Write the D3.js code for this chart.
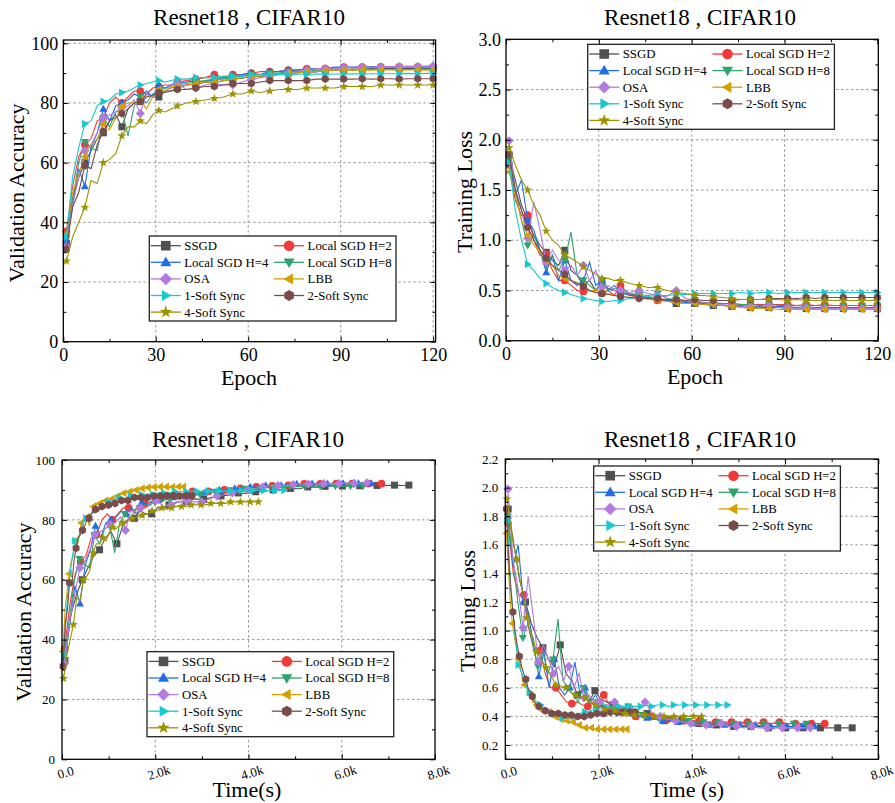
<!DOCTYPE html>
<html>
<head>
<meta charset="utf-8">
<script src="https://cdn.jsdelivr.net/npm/d3@7"></script>
<style>
body{margin:0;background:#fff}
svg, svg text{font-family:"Liberation Serif","Times New Roman",Times,serif}
</style>
</head>
<body>
<svg width="895" height="803"></svg>
<script>
// methods, legend order
const methods = ["SSGD","Local SGD H=2","Local SGD H=4","Local SGD H=8","OSA","LBB","1-Soft Sync","2-Soft Sync","4-Soft Sync"]
const colors = ["#505050","#f03a3a","#1f6ee8","#2ea36b","#b57ae0","#d4a000","#17c9cf","#7a4b4b","#9b9400"]
const shapes = ["square","circle","up","down","diamond","left","right","hexagon","star"]

// epochs where values were read
const epochs = [1,3,5,7,9,11,13,15,17,19,21,23,25,27,29,31,33,35,37,
	40,43,46,49,52,55,58,61,64,67,70,73,76,79,82,85,88,91,94,97,100,103,106,109,112,115,118,120]

// wall clock seconds per epoch, read from where each run ends on the time axis
const secPerEpoch = [62,57.1,55.3,53.8,54.5,21.7,39.7,23.2,35.1]

// validation accuracy
const accSSGD = [33,48,55,60,64,68,70,74,76,72,78,80,80.5,83,82,82,84,84,85,
	86,86.2,87,86.8,87.5,88,88.3,89,88.8,89.4,89.6,90,90.1,90.5,90.4,91,90.9,91.2,91.4,91.3,91.5,91.4,91.6,91.5,91.5,91.6,91.5,91.6]
const accH2 = [37,52,62,66,68,74,75,80,82,80,82,84,84,83,85,85.5,86,86,87,
	87.5,88,88.5,89.5,88.5,89.5,89.5,90,90.5,90.5,90.6,91,91,91.4,91.5,91.5,91.6,92,91.8,92,92,92.1,92,92.1,92,92.1,92,92.1]
const accH4 = [34,45,58,52,65,70,78,74,79,80,81,83,82,84,82,86,85,86,86.5,
	87,87.5,87,88,88.5,89,89.5,90,89.5,90.5,90.5,91,91,91.5,91.5,91.5,92,92,92,92.1,92.2,92.1,92.2,92.2,92.3,92.2,92.3,92.2]
const accH8 = [35,47,60,67,65,64,75,72,77,78,69,79,82,80,83,84,85,85,86,
	86.5,87,87.5,88,88,88.5,89,89.5,89.5,90,90,90.5,90.5,90.5,91,91,91.1,91.2,91.1,91.2,91.3,91.2,91.3,91.3,91.2,91.3,91.3,91.3]
const accOSA = [32,46,55,64,66,70,75,76,77,78.5,79,81,76.5,83,82,84,84,85,86.5,
	84.5,85,86,86.5,86,86,87,88,88.5,89,89.5,90,90.5,91,91.5,91.5,91.5,91.8,92,92,92,92.1,92.2,92.1,92.3,92.2,92.3,92.4]
const accLBB = [36,50,56,62,66,68,73,71,75,79,80,80,81,78,82,84.5,84,85.5,85.5,
	86,86.5,87,87,87.5,88,88.5,89,89,89.5,89.5,90,90,90.5,90.5,90.8,91,91,91,91.1,91,91.1,91.1,91,91.1,91.1,91,91.1]
const accSoft1 = [35,55,65,73,74,79,80.5,81,83,83.5,84,85,86,86.5,87,87.5,87,87.5,88,
	88,88.5,88.5,88.5,89,89,89,89.5,89.4,89.5,89.6,89.5,89.6,89.6,89.7,89.6,89.7,89.7,89.8,89.7,89.8,89.8,89.8,89.8,89.9,89.8,89.9,89.9]
const accSoft2 = [31,45,50,59,58,66,70.5,74,75,76.5,78,80,80.5,82,82.5,83.5,83.5,84,84.5,
	84.5,85,85.5,85.5,86,86.5,86.5,86.5,87,87.5,87.5,87.5,87.5,87.5,88,88,88,88,88,88.1,88,88.1,88.1,88,88.1,88.1,88.1,88.1]
const accSoft4 = [27,35,40,45,54,53,60,61,63,69,72,72,74,73,76,77.5,77,78,79,
	80,80.5,81,81.5,82,83,83,84,83.5,84,84.5,84.5,84.5,85,85,85,85,85.5,85.5,85.5,85.5,86,86,86,86,86,86,86]

// training loss
const lossSSGD = [1.85,1.6,1.35,1.2,1.05,0.95,0.88,0.8,0.75,0.9,0.7,0.65,0.55,0.6,0.5,0.58,0.52,0.5,0.48,
	0.46,0.45,0.43,0.42,0.4,0.37,0.38,0.37,0.36,0.35,0.35,0.34,0.34,0.33,0.33,0.33,0.33,0.32,0.33,0.32,0.32,0.32,0.32,0.32,0.32,0.32,0.32,0.32]
const lossH2 = [1.75,1.4,1.25,1.25,1.0,0.85,0.86,0.7,0.6,0.6,0.55,0.5,0.49,0.5,0.48,0.47,0.5,0.45,0.55,
	0.45,0.43,0.42,0.4,0.4,0.4,0.39,0.38,0.38,0.37,0.37,0.37,0.36,0.36,0.36,0.36,0.36,0.36,0.35,0.36,0.35,0.36,0.35,0.35,0.35,0.35,0.35,0.35]
const lossH4 = [1.8,1.45,1.6,1.2,1.1,0.9,0.68,0.85,0.6,0.8,0.6,0.55,0.6,0.78,0.55,0.6,0.5,0.55,0.48,
	0.45,0.45,0.42,0.42,0.4,0.39,0.38,0.37,0.37,0.36,0.35,0.35,0.35,0.34,0.34,0.34,0.34,0.34,0.33,0.34,0.33,0.33,0.33,0.33,0.33,0.33,0.33,0.33]
const lossH8 = [1.8,1.5,1.2,0.95,1.05,0.9,0.75,0.85,0.7,0.8,1.08,0.65,0.6,0.55,0.5,0.6,0.5,0.52,0.5,
	0.47,0.46,0.45,0.47,0.42,0.41,0.4,0.39,0.38,0.38,0.37,0.37,0.36,0.36,0.35,0.36,0.35,0.35,0.35,0.35,0.35,0.35,0.35,0.35,0.35,0.35,0.35,0.35]
const lossOSA = [1.99,1.5,1.3,1.02,1.38,1.1,0.78,0.9,0.8,0.7,0.75,0.65,0.75,0.6,0.7,0.53,0.55,0.5,0.5,
	0.48,0.5,0.47,0.45,0.44,0.5,0.42,0.4,0.38,0.37,0.36,0.35,0.34,0.34,0.33,0.35,0.33,0.33,0.32,0.33,0.32,0.32,0.32,0.32,0.32,0.32,0.32,0.32]
const lossLBB = [1.68,1.45,1.2,1.05,0.95,0.88,0.8,0.75,0.65,0.62,0.6,0.58,0.55,0.5,0.5,0.48,0.47,0.45,0.44,
	0.43,0.43,0.41,0.4,0.39,0.38,0.37,0.37,0.36,0.36,0.35,0.34,0.33,0.32,0.32,0.32,0.31,0.31,0.31,0.31,0.31,0.31,0.31,0.31,0.31,0.31,0.31,0.31]
const lossSoft1 = [1.77,1.3,1.0,0.76,0.7,0.62,0.57,0.53,0.5,0.48,0.46,0.44,0.42,0.41,0.4,0.39,0.39,0.4,0.4,
	0.42,0.43,0.44,0.45,0.45,0.46,0.46,0.47,0.47,0.47,0.47,0.47,0.48,0.47,0.48,0.48,0.47,0.48,0.48,0.48,0.48,0.48,0.48,0.48,0.48,0.48,0.48,0.48]
const lossSoft2 = [1.85,1.5,1.3,1.13,1.0,0.9,0.82,0.75,0.7,0.66,0.6,0.57,0.54,0.5,0.48,0.47,0.46,0.45,0.44,
	0.43,0.42,0.42,0.42,0.41,0.41,0.4,0.41,0.4,0.4,0.4,0.4,0.41,0.41,0.41,0.42,0.42,0.42,0.42,0.43,0.42,0.43,0.43,0.43,0.43,0.43,0.43,0.43]
const lossSoft4 = [1.92,1.75,1.6,1.5,1.35,1.25,1.09,1.0,0.95,0.85,0.82,0.78,0.74,0.7,0.66,0.62,0.62,0.6,0.6,
	0.57,0.55,0.53,0.53,0.5,0.48,0.47,0.45,0.45,0.44,0.43,0.42,0.41,0.41,0.41,0.41,0.41,0.4,0.41,0.4,0.4,0.4,0.4,0.4,0.4,0.4,0.4,0.4]

const accAll = [accSSGD,accH2,accH4,accH8,accOSA,accLBB,accSoft1,accSoft2,accSoft4]
const lossAll = [lossSSGD,lossH2,lossH4,lossH8,lossOSA,lossLBB,lossSoft1,lossSoft2,lossSoft4]

const svg = d3.select("svg")

// marker shapes drawn around 0,0
const markerPath = function (shape, r) {
	const p = d3.path()
	if (shape == "square") {
		p.rect(-r, -r, 2 * r, 2 * r)
	} else if (shape == "circle") {
		p.arc(0, 0, r * 1.1, 0, 2 * Math.PI)
	} else if (shape == "hexagon") {
		for (let k = 0; k < 6; k++) {
			const a = Math.PI / 6 + k * Math.PI / 3
			const px = Math.cos(a) * r * 1.15, py = Math.sin(a) * r * 1.15
			k == 0 ? p.moveTo(px, py) : p.lineTo(px, py)
		}
		p.closePath()
	} else if (shape == "star") {
		for (let k = 0; k < 10; k++) {
			const a = -Math.PI / 2 + k * Math.PI / 5
			const rr = k % 2 == 0 ? r * 1.35 : r * 0.55
			const px = Math.cos(a) * rr, py = Math.sin(a) * rr
			k == 0 ? p.moveTo(px, py) : p.lineTo(px, py)
		}
		p.closePath()
	} else if (shape == "diamond") {
		p.moveTo(0, -r * 1.3); p.lineTo(r * 1.3, 0); p.lineTo(0, r * 1.3); p.lineTo(-r * 1.3, 0); p.closePath()
	} else {
		// triangles pointing up/down/left/right
		const pts = [[0, -r * 1.2], [r * 1.15, r * 0.8], [-r * 1.15, r * 0.8]]
		const rot = {up: 0, right: 90, down: 180, left: 270}[shape] * Math.PI / 180
		pts.forEach((q, k) => {
			const px = q[0] * Math.cos(rot) - q[1] * Math.sin(rot)
			const py = q[0] * Math.sin(rot) + q[1] * Math.cos(rot)
			k == 0 ? p.moveTo(px, py) : p.lineTo(px, py)
		})
		p.closePath()
	}
	return p.toString()
}

const timeFormat = (d) => d == 0 ? "0.0" : (d / 1000).toFixed(1) + "k"

const panels = [
	{box: [63.3, 40, 435.6, 341.7], xDom: [0, 120.8], yDom: [0, 101.1],
		xMajor: [0,30,60,90,120], xMinor: [15,45,75,105], yMajor: [0,20,40,60,80,100], yMinor: [10,30,50,70,90],
		data: accAll, time: false, font: 18, yFmt: (d) => d,
		title: [249, 25], xlab: ["Epoch", 249, 385], ylab: ["Validation Accuracy", 24, 193], legend: [149.3, 236]},
	{box: [506, 39.3, 878.3, 340.7], xDom: [0, 120.3], yDom: [0, 3],
		xMajor: [0,30,60,90,120], xMinor: [15,45,75,105], yMajor: [0,0.5,1,1.5,2,2.5,3], yMinor: [0.25,0.75,1.25,1.75,2.25,2.75],
		data: lossAll, time: false, font: 18, yFmt: d3.format(".1f"),
		title: [700, 25], xlab: ["Epoch", 695, 384], ylab: ["Training Loss", 472, 192], legend: [587.7, 44.3]},
	{box: [62, 460, 435, 759.3], xDom: [0, 8000], yDom: [0, 100],
		xMajor: [0,2000,4000,6000,8000], xMinor: [1000,3000,5000,7000], yMajor: [0,20,40,60,80,100], yMinor: [10,30,50,70,90],
		data: accAll, time: true, font: 13, yFmt: (d) => d,
		title: [248, 447], xlab: ["Time(s)", 247, 797], ylab: ["Validation Accuracy", 31, 612], legend: [147, 651.7]},
	{box: [505.3, 459, 878.3, 759.3], xDom: [0, 8000], yDom: [0.1, 2.2],
		xMajor: [0,2000,4000,6000,8000], xMinor: [1000,3000,5000,7000], yMajor: [0.2,0.4,0.6,0.8,1,1.2,1.4,1.6,1.8,2,2.2], yMinor: [0.3,0.5,0.7,0.9,1.1,1.3,1.5,1.7,1.9,2.1],
		data: lossAll, time: true, font: 13, yFmt: d3.format(".1f"),
		title: [700, 447], xlab: ["Time (s)", 687, 797], ylab: ["Training Loss", 475, 611], legend: [593.7, 466]}
]

panels.forEach((pn) => {
	const [x0, y0, x1, y1] = pn.box
	const x = d3.scaleLinear().domain(pn.xDom).range([x0, x1])
	const y = d3.scaleLinear().domain(pn.yDom).range([y1, y0])
	const g = svg.append("g")

	// dotted grid at major ticks
	g.append("g").selectAll("line")
		.data(pn.xMajor.filter((d) => x(d) > x0 + 1 && x(d) < x1 - 1))
		.enter().append("line")
		.attr("x1", (d) => x(d)).attr("x2", (d) => x(d)).attr("y1", y0).attr("y2", y1)
		.attr("stroke", "#8c8c8c").attr("stroke-width", 0.9).attr("stroke-dasharray", "2.5,2.5")
	g.append("g").selectAll("line")
		.data(pn.yMajor.filter((d) => y(d) > y0 + 1 && y(d) < y1 - 1))
		.enter().append("line")
		.attr("y1", (d) => y(d)).attr("y2", (d) => y(d)).attr("x1", x0).attr("x2", x1)
		.attr("stroke", "#8c8c8c").attr("stroke-width", 0.9).attr("stroke-dasharray", "2.5,2.5")

	// series
	const xOf = (i, e) => pn.time ? x(e * secPerEpoch[i]) : x(e)
	pn.data.forEach((vals, i) => {
		const pts = epochs.map((e, k) => ({e: e, v: vals[k]}))
		const line = d3.line().x((d) => xOf(i, d.e)).y((d) => y(d.v))
		g.append("path")
			.attr("d", line(pts))
			.attr("fill", "none")
			.attr("stroke", colors[i])
			.attr("stroke-width", 1.1)
		g.selectAll("path.m" + i)
			.data(pts.filter((d) => (d.e - 1) % 6 == 0 || d.e == 120))
			.enter().append("path")
			.attr("class", "m" + i)
			.attr("transform", (d) => `translate(${xOf(i, d.e)},${y(d.v)})`)
			.attr("d", markerPath(shapes[i], 3.5))
			.attr("fill", colors[i])
	})

	// frame
	g.append("rect")
		.attr("x", x0).attr("y", y0).attr("width", x1 - x0).attr("height", y1 - y0)
		.attr("fill", "none").attr("stroke", "#000").attr("stroke-width", 1.3)

	// inward ticks on all four sides
	const addAxis = (axis, tx, ty) => {
		const a = g.append("g").attr("transform", `translate(${tx},${ty})`).call(axis)
		a.attr("font-family", null).attr("font-size", null)
		a.select(".domain").remove()
		a.selectAll("line").attr("stroke", "#000").attr("stroke-width", 1)
		return a
	}
	const bottom = addAxis(d3.axisBottom(x).tickValues(pn.xMajor).tickSize(-5).tickPadding(pn.time ? 9 : 7)
		.tickFormat(pn.time ? timeFormat : (d) => d), 0, y1)
	addAxis(d3.axisBottom(x).tickValues(pn.xMinor).tickSize(-3).tickFormat(""), 0, y1)
	addAxis(d3.axisTop(x).tickValues(pn.xMajor).tickSize(-5).tickFormat(""), 0, y0)
	addAxis(d3.axisTop(x).tickValues(pn.xMinor).tickSize(-3).tickFormat(""), 0, y0)
	const left = addAxis(d3.axisLeft(y).tickValues(pn.yMajor).tickSize(-5).tickPadding(pn.time ? 7 : 5)
		.tickFormat(pn.yFmt), x0, 0)
	addAxis(d3.axisLeft(y).tickValues(pn.yMinor).tickSize(-3).tickFormat(""), x0, 0)
	addAxis(d3.axisRight(y).tickValues(pn.yMajor).tickSize(-5).tickFormat(""), x1, 0)
	addAxis(d3.axisRight(y).tickValues(pn.yMinor).tickSize(-3).tickFormat(""), x1, 0)

	bottom.selectAll("text").attr("font-size", pn.font).attr("fill", "#000")
	left.selectAll("text").attr("font-size", pn.font).attr("fill", "#000")
	if (pn.time) {
		bottom.selectAll("text")
			.attr("y", 0).attr("dy", "0.35em")
			.attr("transform", "translate(3,13) rotate(-17)")
	}

	// titles
	g.append("text").attr("x", pn.title[0]).attr("y", pn.title[1])
		.attr("text-anchor", "middle").attr("font-size", 23).text("Resnet18 , CIFAR10")
	g.append("text").attr("x", pn.xlab[1]).attr("y", pn.xlab[2])
		.attr("text-anchor", "middle").attr("font-size", 22).text(pn.xlab[0])
	g.append("text")
		.attr("transform", `translate(${pn.ylab[1]},${pn.ylab[2]}) rotate(-90)`)
		.attr("text-anchor", "middle").attr("font-size", 22).text(pn.ylab[0])

	// legend
	const [lx, ly] = pn.legend
	const leg = g.append("g").attr("transform", `translate(${lx},${ly})`)
	leg.append("rect").attr("width", 246.7).attr("height", 85)
		.attr("fill", "#fff").attr("stroke", "#222").attr("stroke-width", 1.3)
	const items = leg.selectAll("g.item")
		.data(methods)
		.enter().append("g")
		.attr("class", "item")
		.attr("transform", (d, i) => `translate(${16.5 + (i % 2) * 123.3},${9.7 + Math.floor(i / 2) * 16.6})`)
	items.append("line")
		.attr("x1", -15).attr("x2", 15)
		.attr("stroke", (d, i) => colors[i]).attr("stroke-width", 1.3)
	items.append("path")
		.attr("d", (d, i) => markerPath(shapes[i], 4.8))
		.attr("fill", (d, i) => colors[i])
	items.append("text")
		.attr("x", 18.5).attr("dy", "0.35em")
		.attr("font-size", 12.8)
		.text((d) => d)
})
</script>
</body>
</html>
